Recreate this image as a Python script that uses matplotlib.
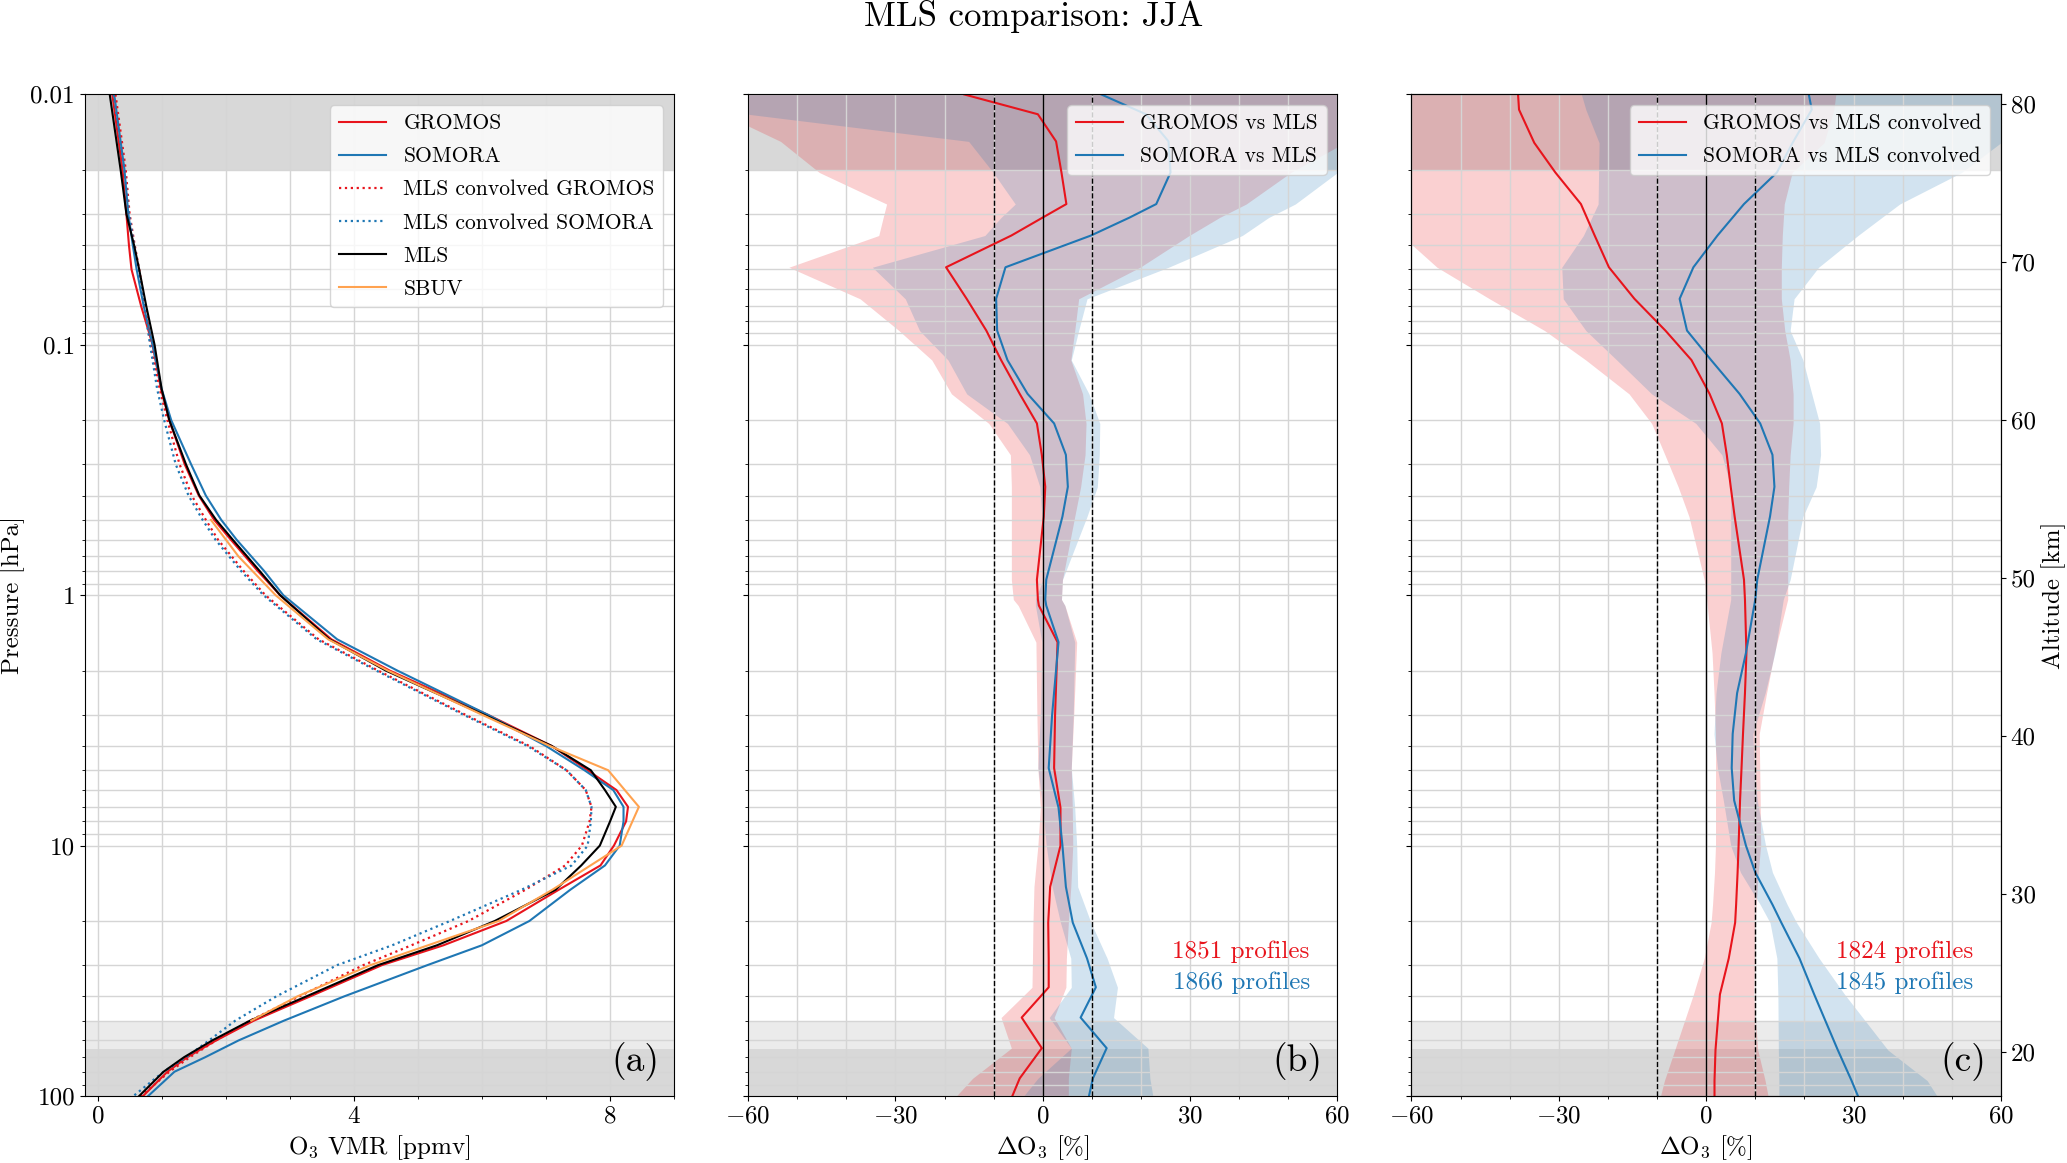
import numpy as np
import matplotlib.pyplot as plt
from matplotlib.ticker import MultipleLocator, NullFormatter, NullLocator

plt.rcParams['font.family'] = 'serif'
plt.rcParams['font.serif'] = ['cmr10']
plt.rcParams['mathtext.fontset'] = 'cm'
plt.rcParams['axes.formatter.use_mathtext'] = True

# panel (a): mean ozone profiles [ppmv] vs pressure [hPa]
p_a = [0.01, 0.02, 0.03, 0.04, 0.05, 0.07, 0.1, 0.15, 0.2, 0.3, 0.4, 0.5, 0.6, 0.8, 1,
       1.5, 2, 3, 4, 5, 6, 7, 8, 10, 12, 15, 20, 25, 30, 40, 50, 60, 70, 80, 100]
mls = [0.19, 0.36, 0.45, 0.57, 0.65, 0.76, 0.89, 1.00, 1.12, 1.38, 1.59, 1.85, 2.11, 2.53, 2.85,
       3.62, 4.50, 6.03, 7.09, 7.70, 7.92, 8.09, 8.00, 7.84, 7.55, 7.15, 6.20, 5.30, 4.38, 3.26,
       2.38, 1.79, 1.35, 1.03, 0.65]
gromos = [0.23, 0.39, 0.45, 0.49, 0.53, 0.68, 0.86, 0.99, 1.12, 1.36, 1.58, 1.82, 2.08, 2.50, 2.85,
          3.65, 4.56, 6.09, 7.09, 7.65, 8.10, 8.28, 8.25, 8.06, 7.85, 7.20, 6.38, 5.40, 4.44, 3.32,
          2.44, 1.85, 1.40, 1.09, 0.71]
somora = [0.26, 0.42, 0.48, 0.55, 0.61, 0.72, 0.86, 1.00, 1.15, 1.46, 1.69, 1.93, 2.17, 2.60, 2.90,
          3.74, 4.68, 6.09, 7.00, 7.60, 8.05, 8.21, 8.21, 8.15, 7.92, 7.38, 6.74, 6.00, 5.15, 3.85,
          2.91, 2.20, 1.68, 1.20, 0.79]
mls_conv_gromos = [0.28, 0.44, 0.50, 0.58, 0.65, 0.74, 0.83, 0.97, 1.09, 1.28, 1.47, 1.69, 1.88, 2.28, 2.62,
                   3.45, 4.38, 5.74, 6.74, 7.32, 7.62, 7.71, 7.68, 7.56, 7.30, 6.68, 5.79, 4.90, 4.15, 3.15,
                   2.38, 1.85, 1.44, 1.12, 0.68]
mls_conv_somora = [0.25, 0.42, 0.49, 0.57, 0.64, 0.73, 0.82, 0.93, 1.04, 1.22, 1.42, 1.64, 1.84, 2.24, 2.59,
                   3.42, 4.35, 5.71, 6.71, 7.32, 7.62, 7.71, 7.70, 7.65, 7.40, 6.62, 5.50, 4.60, 3.74, 2.79,
                   2.15, 1.74, 1.38, 1.03, 0.56]
p_sbuv = [0.5, 0.7, 1, 1.5, 2, 3, 4, 5, 7, 10, 15, 20, 30, 40, 50]
sbuv = [1.77, 2.20, 2.78, 3.60, 4.53, 6.00, 7.06, 7.97, 8.45, 8.18, 7.10, 6.26, 4.26, 3.12, 2.40]

# panel (b): relative difference vs MLS [%], mean and spread
p_b = [0.01, 0.012, 0.0154, 0.0205, 0.0274, 0.031, 0.0366, 0.049, 0.0655, 0.0877, 0.115, 0.157,
       0.206, 0.275, 0.369, 0.485, 0.867, 1.04, 1.1, 1.54, 3.0, 4.9, 7.05, 10, 14.6, 20.3, 28.2,
       36.8, 48.6, 64.4, 85, 100]
b_gromos = [-16, -1.0, 2.7, 3.8, 4.8, 0.0, -6.4, -19.7, -15.5, -11.5, -8.5, -4.7, -1.2, -0.2, 0.5, 0.2,
            -1.2, -1.0, -0.8, 3.0, 2.5, 2.3, 3.6, 3.6, 1.5, 1.1, 1.2, 1.2, -4.3, -0.2, -4.7, -6.2]
b_gromos_lo = [-65, -65, -53.4, -45.5, -31.8, -32.5, -33.4, -51.7, -37.2, -29.3, -22.6, -18.6, -11.0, -6.6,
               -6.4, -6.4, -6.4, -6.0, -5.0, -1.4, -1.2, -1.0, -0.5, -1.0, -1.8, -2.0, -2.1, -2.2, -8.5,
               -6.4, -14.3, -17.6]
b_gromos_hi = [65, 65, 62, 50.5, 41.4, 36.0, 29.8, 19.8, 7.3, 6.5, 5.7, 8.1, 8.8, 8.6, 7.7, 6.5, 4.0,
               3.8, 4.5, 6.9, 6.3, 5.8, 6.0, 6.1, 5.7, 5.2, 4.8, 4.7, 2.3, 5.8, 5.2, 5.2]
b_somora = [11.9, 21.0, 25.6, 26.0, 23.1, 17.7, 9.8, -7.6, -9.5, -9.3, -7.2, -3.1, 2.3, 4.7, 5.1, 4.0,
            0.7, 0.5, 0.7, 3.2, 1.9, 1.2, 3.2, 4.0, 4.7, 6.1, 9.0, 10.8, 7.7, 13.0, 10.2, 9.4]
b_somora_lo = [-65, -60, -15.1, -10.1, -5.6, -8.5, -11.8, -34.7, -28.0, -25.1, -19.3, -15.5, -7.2, -2.7,
               -0.6, -0.2, 0.0, -1.5, -1.5, -0.2, -0.5, -1.0, 0.0, 0.7, 1.9, 3.6, 5.7, 5.8, 1.3, 5.8,
               -1.0, -3.9]
b_somora_hi = [65, 65, 65, 60, 51.4, 46.0, 40.6, 25.6, 9.0, 7.3, 5.8, 9.4, 11.6, 11.5, 11.1, 9.0, 4.0,
               3.8, 4.5, 6.5, 6.2, 5.8, 6.5, 6.9, 7.1, 9.8, 13.1, 15.2, 14.4, 21.4, 21.8, 22.4]

# panel (c): relative difference vs convolved MLS [%]
p_c = [0.01, 0.0115, 0.0156, 0.0205, 0.0274, 0.0366, 0.049, 0.0655, 0.0877, 0.115, 0.157, 0.206,
       0.275, 0.369, 0.485, 0.867, 1.04, 1.7, 2.46, 3.58, 4.9, 6.6, 10, 12.8, 17.2, 20.3, 28.2,
       39.3, 65.5, 86.8, 100]
c_gromos = [-38.3, -38.1, -35.0, -30.7, -25.5, -22.7, -19.8, -14.6, -8.3, -3.0, 0.7, 3.2, 4.2, 5.0, 5.8,
            7.7, 7.9, 8.2, 7.9, 7.5, 7.2, 6.9, 6.6, 6.4, 6.1, 5.9, 4.6, 2.8, 1.9, 1.7, 1.7]
c_gromos_lo = [-65, -65, -65, -65, -65, -62, -54.8, -44.1, -32.9, -24.5, -15.7, -11.1, -8.4, -5.7, -3.5,
               -0.4, 0.1, 1.2, 1.6, 1.9, 1.9, 1.9, 1.9, 1.7, 1.3, 1.0, -0.4, -2.6, -6.4, -8.5, -9.3]
c_gromos_hi = [26.4, 26.0, 24.0, 17.5, 15.9, 15.5, 15.3, 15.3, 16.0, 17.1, 17.7, 17.7, 17.1, 16.8, 16.6,
               16.6, 16.6, 13.9, 12.3, 10.8, 10.9, 11.0, 11.1, 10.6, 10.2, 10.0, 9.9, 9.7, 10.5, 12.0, 12.6]
c_somora = [20.9, 21.5, 17.6, 14.4, 7.7, 2.3, -2.6, -5.4, -3.9, 1.0, 6.8, 11.0, 13.5, 13.9, 13.0,
            10.4, 10.0, 8.1, 6.3, 5.4, 5.2, 5.7, 8.1, 10.0, 13.5, 15.3, 19.0, 22.0, 26.8, 29.6, 30.9]
c_somora_lo = [-25.4, -24.5, -21.8, -21.9, -22.0, -25.0, -29.4, -29.1, -24.5, -18.2, -11.1, -2.1, 3.2, 5.0,
               5.0, 5.0, 5.0, 3.0, 2.0, 1.6, 2.3, 3.5, 5.0, 7.0, 11.0, 13.0, 14.4, 14.6, 14.7, 14.8, 14.8]
c_somora_hi = [65, 65, 60, 52, 39.4, 30.9, 22.9, 17.9, 17.1, 19.7, 21.5, 23.1, 23.3, 22.4, 19.7,
               17.1, 15.7, 14.0, 12.0, 9.5, 9.8, 10.4, 12.1, 13.5, 16.5, 18.4, 23.0, 28.2, 37.0, 45.0, 47.0]

profiles_b = ['1851 profiles', '1866 profiles']
profiles_c = ['1824 profiles', '1845 profiles']

# limits of the trusted range (grey bands), top and bottom, for each instrument
top_limits = [0.02, 0.02]
bottom_limits = [50, 65]

alt_ticks = [20, 30, 40, 50, 60, 70, 80]
Z0, H = 48.9, 15.85   # km, km per decade of pressure

RED = '#e8141c'
BLUE = '#1f77b4'
ORANGE = '#ffa24f'
GRID = '#d5d5d5'

fig, axs = plt.subplots(1, 3, figsize=(20.67, 11.63), dpi=100, sharey=True)
fig.subplots_adjust(left=0.041, right=0.968, bottom=0.0576, top=0.9188, wspace=0.1255)

for ax in axs:
    for t in top_limits:
        ax.axhspan(0.01, t, color='k', alpha=0.08, lw=0)
    for b in bottom_limits:
        ax.axhspan(b, 100, color='k', alpha=0.08, lw=0)
    ax.set_yscale('log')
    ax.grid(True, which='both', color=GRID, lw=1.0)
    ax.tick_params(which='both', labelsize=18)

# (a)
ax = axs[0]
ax.plot(gromos, p_a, color=RED, lw=1.5, label='GROMOS')
ax.plot(somora, p_a, color=BLUE, lw=1.5, label='SOMORA')
ax.plot(mls_conv_gromos, p_a, color=RED, lw=1.6, ls=':', label='MLS convolved GROMOS')
ax.plot(mls_conv_somora, p_a, color=BLUE, lw=1.6, ls=':', label='MLS convolved SOMORA')
ax.plot(mls, p_a, color='k', lw=1.5, label='MLS')
ax.plot(sbuv, p_sbuv, color=ORANGE, lw=1.5, label='SBUV')
ax.set_xlim(-0.2, 9)
ax.set_xticks([0, 4, 8])
ax.xaxis.set_minor_locator(MultipleLocator(1))
ax.set_xlabel('O$_3$ VMR [ppmv]', fontsize=18)
ax.set_ylabel('Pressure [hPa]', fontsize=18)
ax.legend(loc='upper right', fontsize=15.5, labelspacing=0.63, handlelength=2.2)
ax.text(0.975, 0.034, '(a)', transform=ax.transAxes, ha='right', va='center', fontsize=27)

ax.set_ylim(100, 0.01)
ax.set_yticks([0.01, 0.1, 1, 10, 100])
ax.set_yticklabels(['0.01', '0.1', '1', '10', '100'])
ax.yaxis.set_minor_formatter(NullFormatter())

# (b) and (c)
panels = [
    (axs[1], p_b, b_gromos, b_gromos_lo, b_gromos_hi, b_somora, b_somora_lo, b_somora_hi,
     ['GROMOS vs MLS', 'SOMORA vs MLS'], profiles_b, '(b)'),
    (axs[2], p_c, c_gromos, c_gromos_lo, c_gromos_hi, c_somora, c_somora_lo, c_somora_hi,
     ['GROMOS vs MLS convolved', 'SOMORA vs MLS convolved'], profiles_c, '(c)'),
]
for ax, p, g, glo, ghi, s, slo, shi, labels, nprof, tag in panels:
    ax.fill_betweenx(p, glo, ghi, color=RED, alpha=0.2, lw=0)
    ax.fill_betweenx(p, slo, shi, color=BLUE, alpha=0.2, lw=0)
    ax.plot(g, p, color=RED, lw=1.5, label=labels[0])
    ax.plot(s, p, color=BLUE, lw=1.5, label=labels[1])
    ax.axvline(0, color='k', lw=1)
    ax.axvline(-10, color='k', lw=1, ls='--')
    ax.axvline(10, color='k', lw=1, ls='--')
    ax.set_xlim(-60, 60)
    ax.set_xticks([-60, -30, 0, 30, 60])
    ax.xaxis.set_minor_locator(MultipleLocator(10))
    ax.set_xlabel(r'$\Delta$O$_3$ [%]', fontsize=18)
    ax.legend(loc='upper right', fontsize=15.5, labelspacing=0.63, handlelength=2.2)
    ax.text(0.953, 0.144, nprof[0], color=RED, transform=ax.transAxes, ha='right', va='center', fontsize=18)
    ax.text(0.953, 0.113, nprof[1], color=BLUE, transform=ax.transAxes, ha='right', va='center', fontsize=18)
    ax.text(0.975, 0.034, tag, transform=ax.transAxes, ha='right', va='center', fontsize=27)

# altitude axis on the right
ax2 = axs[2].twinx()
ax2.set_yscale('log')
ax2.set_ylim(100, 0.01)
ax2.set_yticks([10 ** ((Z0 - z) / H) for z in alt_ticks])
ax2.set_yticklabels([str(z) for z in alt_ticks])
ax2.yaxis.set_minor_locator(NullLocator())
ax2.tick_params(labelsize=18)
ax2.set_ylabel('Altitude [km]', fontsize=18)

fig.suptitle('MLS comparison: JJA', fontsize=25, y=0.986, va='center')

fig.savefig('out.png', dpi=100)
